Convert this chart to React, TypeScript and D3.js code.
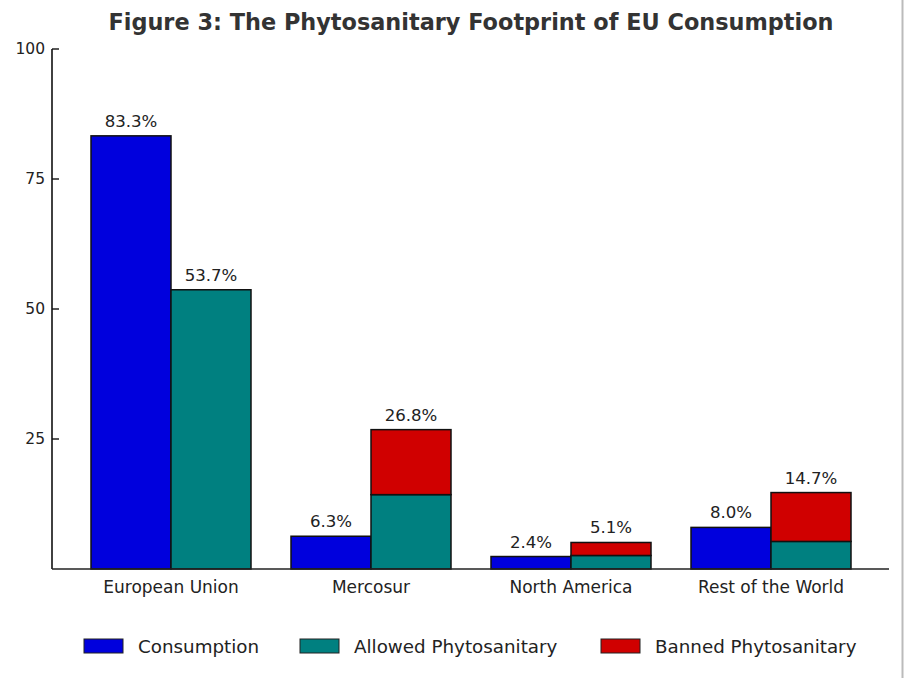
import React, { useEffect } from "react";
import * as d3 from "d3";

const categories = ["European Union", "Mercosur", "North America", "Rest of the World"];
const consumption = [83.3, 6.3, 2.4, 8.0];
const allowed = [53.7, 14.3, 2.6, 5.3];
const banned = [0, 12.5, 2.5, 9.4];
const phytoTotals = [53.7, 26.8, 5.1, 14.7];
const yTicks = [25, 50, 75, 100];
const seriesNames = ["Consumption", "Allowed Phytosanitary", "Banned Phytosanitary"];
const colors = ["#0000DD", "#008080", "#D00000"];

const W = 904;
const H = 678;
const left = 52;
const right = 889;
const top = 49;
const bottom = 569;
const FONT = "DejaVu Sans, sans-serif";

export default function App() {
  useEffect(() => {
    document.body.style.margin = "0";
  }, []);

  const y = d3.scaleLinear().domain([0, 100]).range([bottom, top]);
  const x = d3
    .scaleBand<string>()
    .domain(categories)
    .range([left + 19, left + 19 + 800])
    .paddingInner(0.2)
    .paddingOuter(0.1);
  const cx = (c: string) => (x(c) as number) + x.bandwidth() / 2;
  const barW = 80;

  const legendX = [84, 300, 601];

  return (
    <svg width={W} height={H} style={{ display: "block", background: "#fff" }}>
      <rect x={0} y={0} width={W} height={H} fill="#fff" />
      <text
        x={471}
        y={30}
        textAnchor="middle"
        fontFamily={FONT}
        fontWeight="bold"
        fontSize={22.4}
        fill="#333"
      >
        Figure 3: The Phytosanitary Footprint of EU Consumption
      </text>

      {categories.map((c, i) => {
        const c0 = cx(c);
        const xb = c0 - barW;
        const xp = c0;
        return (
          <g key={c}>
            <rect
              x={xb}
              y={y(consumption[i])}
              width={barW}
              height={y(0) - y(consumption[i])}
              fill={colors[0]}
              stroke="#111"
              strokeWidth={1.5}
            />
            <rect
              x={xp}
              y={y(allowed[i])}
              width={barW}
              height={y(0) - y(allowed[i])}
              fill={colors[1]}
              stroke="#111"
              strokeWidth={1.5}
            />
            {banned[i] > 0 && (
              <rect
                x={xp}
                y={y(allowed[i] + banned[i])}
                width={barW}
                height={y(allowed[i]) - y(allowed[i] + banned[i])}
                fill={colors[2]}
                stroke="#111"
                strokeWidth={1.5}
              />
            )}
            <text
              x={xb + barW / 2}
              y={y(consumption[i]) - 9}
              textAnchor="middle"
              fontFamily={FONT}
              fontSize={16.6}
              fill="#222"
            >
              {consumption[i].toFixed(1)}%
            </text>
            <text
              x={xp + barW / 2}
              y={y(allowed[i] + banned[i]) - 9}
              textAnchor="middle"
              fontFamily={FONT}
              fontSize={16.6}
              fill="#222"
            >
              {phytoTotals[i].toFixed(1)}%
            </text>
            <text
              x={c0}
              y={593}
              textAnchor="middle"
              fontFamily={FONT}
              fontSize={17}
              fill="#222"
            >
              {c}
            </text>
          </g>
        );
      })}

      <line x1={left} x2={left} y1={top} y2={bottom} stroke="#111" strokeWidth={1.6} />
      <line x1={left} x2={right} y1={bottom} y2={bottom} stroke="#222" strokeWidth={1.6} />
      {yTicks.map((t) => (
        <g key={t}>
          <line x1={left} x2={left + 7} y1={y(t)} y2={y(t)} stroke="#111" strokeWidth={1.4} />
          <text
            x={45}
            y={y(t)}
            dy="0.35em"
            textAnchor="end"
            fontFamily={FONT}
            fontSize={15.5}
            fill="#222"
          >
            {t}
          </text>
        </g>
      ))}

      {seriesNames.map((s, i) => (
        <g key={s}>
          <rect
            x={legendX[i]}
            y={639}
            width={39}
            height={14}
            fill={colors[i]}
            stroke="#222"
            strokeWidth={1}
          />
          <text
            x={legendX[i] + 54}
            y={653}
            fontFamily={FONT}
            fontSize={18.3}
            fill="#222"
          >
            {s}
          </text>
        </g>
      ))}

      <line x1={W - 1.5} x2={W - 1.5} y1={0} y2={H} stroke="#bbb" strokeWidth={2} />
    </svg>
  );
}
